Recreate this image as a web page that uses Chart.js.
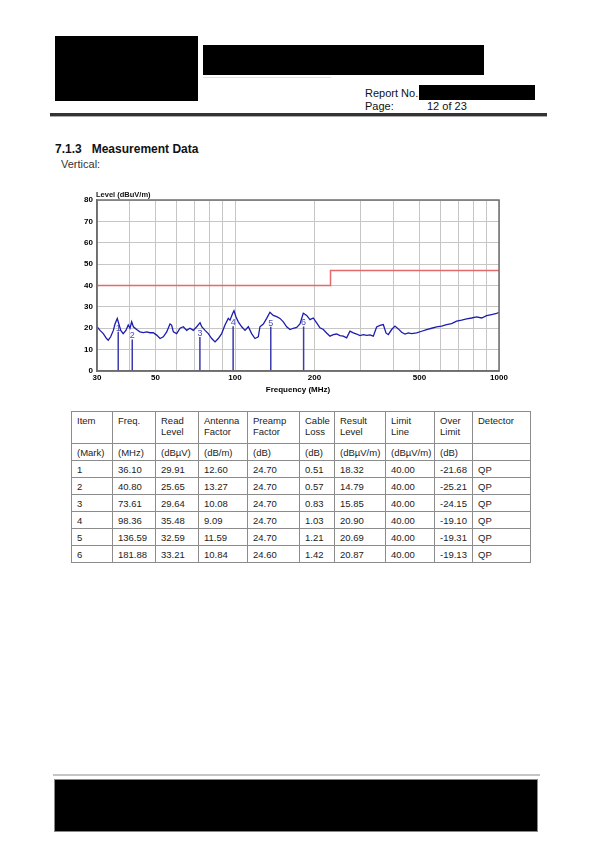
<!DOCTYPE html>
<html>
<head>
<meta charset="utf-8">
<script src="https://cdn.jsdelivr.net/npm/chart.js@4/dist/chart.umd.min.js"></script>
<style>
    body { margin: 0; width: 600px; height: 849px; background: #fff; font-family: Arial, "Liberation Sans", sans-serif; color: #111; position: relative; overflow: hidden; }
    .abs { position: absolute; }
    .blk { position: absolute; background: #000; }
    .txt { position: absolute; font-size: 11px; line-height: 13px; white-space: nowrap; }
    table { position: absolute; left: 71px; top: 411px; border-collapse: collapse; table-layout: fixed; font-size: 9.5px; color: #222; }
    td { border: 1px solid #8c8c8c; padding: 0 0 0 5px; height: 16px; line-height: 11px; vertical-align: middle; }
    tr.head td { height: 28px; vertical-align: top; padding-top: 3px; }
</style>
</head>
<body>
<script>
// Sweep trace (MHz, dBuV/m)
const traceFreq = [30.0, 30.8, 31.7, 32.6, 33.1, 33.8, 34.6, 35.1, 35.8, 36.3, 36.9, 37.7, 38.6, 39.4, 40.0, 40.6, 41.2, 42.4, 43.6, 44.9,
    46.3, 47.6, 49.0, 50.5, 52.0, 53.5, 55.1, 56.7, 57.5, 58.4, 60.1, 61.9, 63.7, 65.6, 67.5, 69.5, 71.6, 73.7, 74.8, 77.0,
    79.2, 81.6, 84.0, 86.4, 89.0, 91.6, 94.3, 95.7, 98.0, 99.1, 100.8, 102.9, 106.0, 109.1, 112.3, 115.6, 119.0, 122.5, 124.3, 128.0,
    131.8, 135.6, 139.6, 143.8, 148.0, 152.4, 156.9, 161.5, 166.3, 171.2, 176.2, 181.4, 186.8, 192.3, 197.9, 203.8, 209.8, 216.0, 222.3, 228.9,
    235.7, 242.6, 249.8, 257.1, 264.7, 272.5, 280.6, 288.9, 297.4, 306.2, 315.2, 324.5, 334.1, 343.9, 354.1, 364.5, 373.1, 380.8, 392.0, 403.6,
    415.5, 427.7, 440.4, 453.4, 466.7, 487.6, 509.3, 532.0, 555.8, 580.5, 606.4, 633.4, 661.5, 691.0, 721.8, 754.0, 787.5, 822.6, 859.5, 897.6,
    937.7, 979.7, 1000];
const traceLevel = [20.7, 19.0, 17.5, 15.2, 14.4, 16.0, 19.0, 22.0, 24.6, 22.0, 19.0, 17.5, 19.0, 21.5, 20.0, 23.0, 20.7, 19.4, 18.3, 18.0,
    18.3, 17.9, 17.9, 16.8, 15.2, 16.0, 18.3, 22.0, 21.5, 18.3, 17.5, 20.0, 20.7, 19.0, 20.0, 19.0, 20.7, 22.6, 20.7, 19.0,
    17.5, 15.2, 13.6, 15.2, 17.5, 21.5, 24.6, 23.8, 27.0, 28.2, 25.4, 23.0, 20.7, 19.0, 20.7, 17.5, 15.2, 16.0, 20.7, 22.0,
    24.6, 27.5, 26.0, 25.4, 24.6, 23.0, 20.7, 19.4, 20.0, 20.4, 22.0, 27.0, 26.0, 24.0, 24.8, 22.5, 20.2, 19.4, 17.8, 16.3,
    17.0, 17.3, 16.6, 16.3, 15.5, 18.6, 17.8, 17.3, 16.6, 17.0, 16.7, 16.9, 16.3, 20.6, 21.3, 21.7, 17.8, 17.0, 19.4, 21.0,
    19.7, 18.1, 17.3, 17.8, 17.5, 17.8, 18.6, 19.4, 20.0, 20.6, 21.0, 21.7, 22.2, 23.3, 23.8, 24.4, 24.8, 25.3, 24.8, 25.9,
    26.4, 26.9, 27.5];

// Limit line (step at 230 MHz)
const limitFreq = [30, 230, 230, 1000];
const limitLevel = [40, 40, 47, 47];

// Axis ticks
const xGridTicks = [30, 40, 50, 60, 70, 80, 90, 100, 200, 300, 400, 500, 600, 700, 800, 900, 1000];
const xLabelTicks = [30, 50, 100, 200, 500, 1000];

// Table of marked peaks
const markItem = ['1', '2', '3', '4', '5', '6'];
const markFreq = [36.10, 40.80, 73.61, 98.36, 136.59, 181.88];
const readLevel = [29.91, 25.65, 29.64, 35.48, 32.59, 33.21];
const antennaFactor = [12.60, 13.27, 10.08, 9.09, 11.59, 10.84];
const preampFactor = [24.70, 24.70, 24.70, 24.70, 24.70, 24.60];
const cableLoss = [0.51, 0.57, 0.83, 1.03, 1.21, 1.42];
const resultLevel = [18.32, 14.79, 15.85, 20.90, 20.69, 20.87];
const limitLine = [40.00, 40.00, 40.00, 40.00, 40.00, 40.00];
const overLimit = [-21.68, -25.21, -24.15, -19.10, -19.31, -19.13];
const detector = ['QP', 'QP', 'QP', 'QP', 'QP', 'QP'];
</script>

<!-- header -->
<div class="blk" style="left:55px; top:36px; width:143px; height:65px;"></div>
<div class="blk" style="left:203px; top:45px; width:281px; height:30px;"></div>
<div class="abs" style="left:203px; top:77px; width:128px; height:1px; background:#e2e2e2;"></div>
<div class="txt" style="left:365px; top:87px;">Report No.:</div>
<div class="blk" style="left:419px; top:85px; width:116px; height:15px;"></div>
<div class="txt" style="left:365px; top:100px;">Page:</div>
<div class="txt" style="left:427px; top:100px;">12 of 23</div>
<div class="abs" style="left:50px; top:113px; width:497px; height:3px; background:#333;"></div>
<div class="abs" style="left:50px; top:116px; width:497px; height:1px; background:#aaa;"></div>

<div class="txt" style="left:55px; top:142px; font-size:12px; font-weight:bold; line-height:14px;">7.1.3&nbsp;&nbsp;&nbsp;Measurement Data</div>
<div class="txt" style="left:61px; top:158px; color:#333;">Vertical:</div>

<!-- chart -->
<div class="abs" style="left:60px; top:185px; width:450px; height:210px;">
    <canvas id="emi" width="450" height="210"></canvas>
</div>
<div class="txt" style="left:96px; top:190px; font-size:7.5px; line-height:9px; font-weight:bold;">Level (dBuV/m)</div>

<table id="tbl"></table>

<!-- footer -->
<div class="abs" style="left:53px; top:774px; width:487px; height:2px; background:#c4c4c4;"></div>
<div class="blk" style="left:54px; top:779px; width:482px; height:51px; border:1px solid #888;"></div>

<script>
// Table
const colWidths = [41, 43, 43, 49, 52, 35, 51, 49, 38, 58];
const tbl = document.getElementById('tbl');
const cg = document.createElement('colgroup');
colWidths.forEach(w => { const c = document.createElement('col'); c.style.width = w + 'px'; cg.appendChild(c); });
tbl.appendChild(cg);

const headRow = ['Item', 'Freq.', 'Read<br>Level', 'Antenna<br>Factor', 'Preamp<br>Factor', 'Cable<br>Loss', 'Result<br>Level', 'Limit<br>Line', 'Over<br>Limit', 'Detector'];
const unitRow = ['(Mark)', '(MHz)', '(dBµV)', '(dB/m)', '(dB)', '(dB)', '(dBµV/m)', '(dBµV/m)', '(dB)', ''];
let html = '<tr class="head">' + headRow.map(h => `<td>${h}</td>`).join('') + '</tr>';
html += '<tr>' + unitRow.map(h => `<td>${h}</td>`).join('') + '</tr>';
markItem.forEach((item, i) => {
    const cells = [item, markFreq[i].toFixed(2), readLevel[i].toFixed(2), antennaFactor[i].toFixed(2), preampFactor[i].toFixed(2),
        cableLoss[i].toFixed(2), resultLevel[i].toFixed(2), limitLine[i].toFixed(2), overLimit[i].toFixed(2), detector[i]];
    html += '<tr>' + cells.map(c => `<td>${c}</td>`).join('') + '</tr>';
});
tbl.insertAdjacentHTML('beforeend', html);

// Chart
Chart.defaults.font.family = 'Arial, "Liberation Sans", sans-serif';

const traceData = traceFreq.map((f, i) => ({ x: f, y: traceLevel[i] }));
const limitData = limitFreq.map((f, i) => ({ x: f, y: limitLevel[i] }));
const markerData = [];
markFreq.forEach((f, i) => {
    markerData.push({ x: f, y: 0 }, { x: f, y: resultLevel[i] }, { x: f, y: null });
});

const framePlugin = {
    id: 'frame',
    afterDraw(chart) {
        const { ctx, chartArea: a } = chart;
        ctx.save();
        ctx.strokeStyle = '#6e6e6e';
        ctx.lineWidth = 1.5;
        ctx.strokeRect(a.left, a.top, a.right - a.left, a.bottom - a.top);
        ctx.restore();
    }
};

const markLabelPlugin = {
    id: 'markLabels',
    afterDatasetsDraw(chart) {
        const { ctx, scales } = chart;
        ctx.save();
        ctx.fillStyle = '#4a4ab8';
        ctx.font = '9px Arial, "Liberation Sans", sans-serif';
        ctx.textAlign = 'center';
        ctx.textBaseline = 'bottom';
        markItem.forEach((m, i) => {
            const x = scales.x.getPixelForValue(markFreq[i]);
            const y = scales.y.getPixelForValue(resultLevel[i]);
            ctx.fillText(m, x, y + 1);
        });
        ctx.restore();
    }
};

new Chart(document.getElementById('emi'), {
    type: 'line',
    data: {
        datasets: [
            { data: markerData, borderColor: '#3c3cae', borderWidth: 1.5, pointRadius: 0, spanGaps: false },
            { data: traceData, borderColor: '#1c1cb0', borderWidth: 1.3, pointRadius: 0, tension: 0 },
            { data: limitData, borderColor: '#e46a6e', borderWidth: 1.5, pointRadius: 0, tension: 0 }
        ]
    },
    options: {
        responsive: false,
        animation: false,
        layout: { padding: { top: 15, right: 11, left: 0, bottom: 0 } },
        plugins: { legend: { display: false }, tooltip: { enabled: false } },
        scales: {
            x: {
                type: 'logarithmic',
                min: 30,
                max: 1000,
                afterBuildTicks: axis => { axis.ticks = xGridTicks.map(v => ({ value: v })); },
                afterFit: scale => { scale.height = 24; },
                ticks: {
                    autoSkip: false,
                    maxRotation: 0,
                    padding: 2,
                    color: '#000',
                    font: { size: 8, weight: 'bold' },
                    callback: v => xLabelTicks.includes(v) ? String(v) : ''
                },
                grid: { color: '#c6c6c6', drawTicks: false },
                border: { color: '#6e6e6e', width: 1.5 },
                title: { display: true, text: 'Frequency (MHz)', color: '#000', font: { size: 8, weight: 'bold' }, padding: { top: -1, bottom: 0 } }
            },
            y: {
                min: 0,
                max: 80,
                afterFit: scale => { scale.width = 37; },
                ticks: { stepSize: 10, padding: 4, color: '#000', font: { size: 8, weight: 'bold' } },
                grid: { color: '#c6c6c6', drawTicks: false },
                border: { color: '#6e6e6e', width: 1.5 }
            }
        }
    },
    plugins: [framePlugin, markLabelPlugin]
});
</script>
</body>
</html>
